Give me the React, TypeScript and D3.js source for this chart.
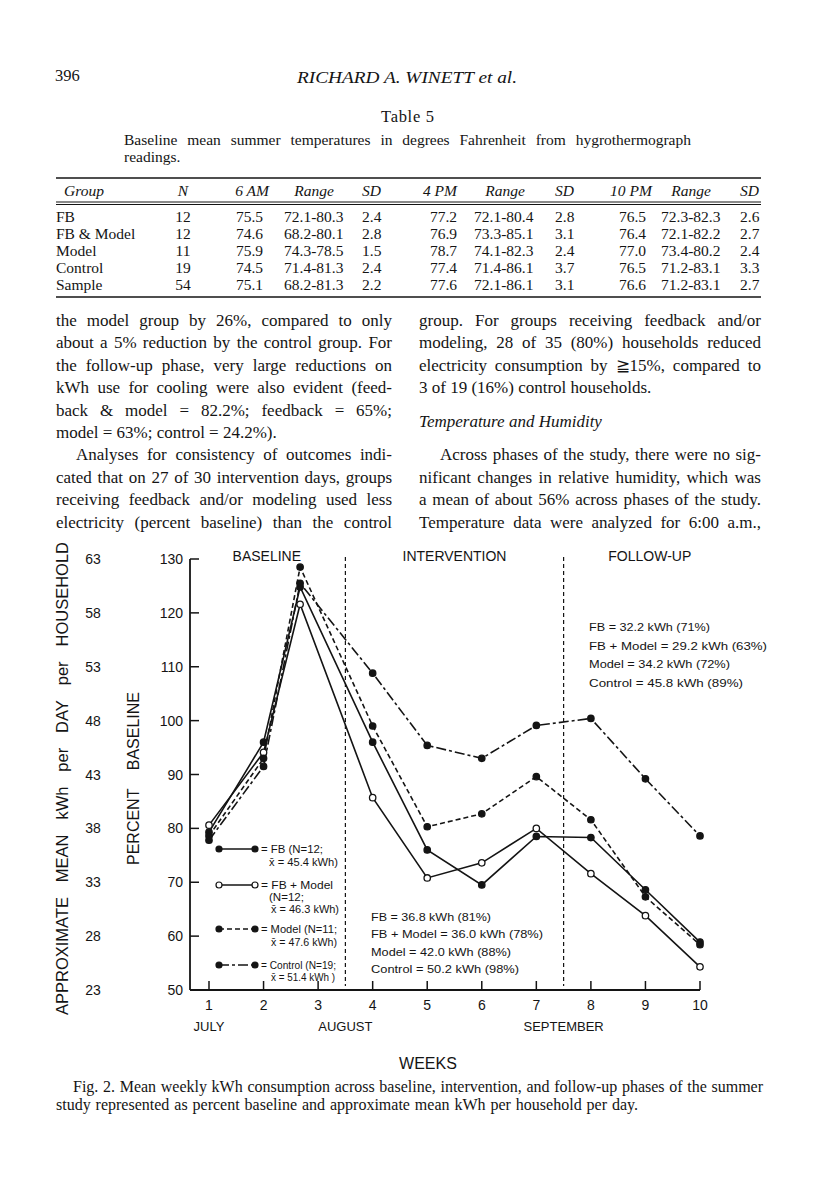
import React from 'react';
import * as d3 from 'd3';

// ---------- chart data ----------
const weeks = [1, 2, 2.67, 4, 5, 6, 7, 8, 9, 10];
const fbValues = [79.3, 96.0, 124.8, 96.0, 76.0, 69.5, 78.5, 78.3, 68.6, 58.9];
const fbModelValues = [80.6, 94.1, 121.6, 85.7, 70.8, 73.6, 80.0, 71.6, 63.8, 54.3];
const modelValues = [78.6, 93.0, 128.5, 99.0, 80.3, 82.7, 89.6, 81.6, 67.3, 58.4];
const controlValues = [77.8, 91.5, 125.5, 108.8, 95.4, 93.0, 99.1, 100.4, 89.2, 78.6];
const percentTicks = [50, 60, 70, 80, 90, 100, 110, 120, 130];
const kwhTicks = [23, 28, 33, 38, 43, 48, 53, 58, 63];
const weekTicks = [1, 2, 3, 4, 5, 6, 7, 8, 9, 10];
const monthLabels = ['JULY', 'AUGUST', 'SEPTEMBER'];
const monthWeeks = [1, 3.5, 7.5];
const phaseLabels = ['BASELINE', 'INTERVENTION', 'FOLLOW-UP'];
const phaseCenters = [2.06, 5.5, 9.08];
const phaseBreaks = [3.5, 7.5];
const interventionNotes = ['FB = 36.8 kWh (81%)', 'FB + Model = 36.0 kWh (78%)', 'Model = 42.0 kWh (88%)', 'Control = 50.2 kWh (98%)'];
const followupNotes = ['FB = 32.2 kWh (71%)', 'FB + Model = 29.2 kWh (63%)', 'Model = 34.2 kWh (72%)', 'Control = 45.8 kWh (89%)'];

// ---------- table data ----------
const tableHeaders = ['Group', 'N', '6 AM', 'Range', 'SD', '4 PM', 'Range', 'SD', '10 PM', 'Range', 'SD'];
const tableGroups = ['FB', 'FB & Model', 'Model', 'Control', 'Sample'];
const tableN = ['12', '12', '11', '19', '54'];
const am6 = ['75.5', '74.6', '75.9', '74.5', '75.1'];
const am6Range = ['72.1-80.3', '68.2-80.1', '74.3-78.5', '71.4-81.3', '68.2-81.3'];
const am6SD = ['2.4', '2.8', '1.5', '2.4', '2.2'];
const pm4 = ['77.2', '76.9', '78.7', '77.4', '77.6'];
const pm4Range = ['72.1-80.4', '73.3-85.1', '74.1-82.3', '71.4-86.1', '72.1-86.1'];
const pm4SD = ['2.8', '3.1', '2.4', '3.7', '3.1'];
const pm10 = ['76.5', '76.4', '77.0', '76.5', '76.6'];
const pm10Range = ['72.3-82.3', '72.1-82.2', '73.4-80.2', '71.2-83.1', '71.2-83.1'];
const pm10SD = ['2.6', '2.7', '2.4', '3.3', '2.7'];

// ---------- body text ----------
const leftLines = [
  'the model group by 26%, compared to only',
  'about a 5% reduction by the control group. For',
  'the follow-up phase, very large reductions on',
  'kWh use for cooling were also evident (feed-',
  'back & model = 82.2%; feedback = 65%;',
  'model = 63%; control = 24.2%).',
  'Analyses for consistency of outcomes indi-',
  'cated that on 27 of 30 intervention days, groups',
  'receiving feedback and/or modeling used less',
  'electricity (percent baseline) than the control',
];
const rightLines = [
  'group. For groups receiving feedback and/or',
  'modeling, 28 of 35 (80%) households reduced',
  'electricity consumption by \u226715%, compared to',
  '3 of 19 (16%) control households.',
  '',
  '',
  'Across phases of the study, there were no sig-',
  'nificant changes in relative humidity, which was',
  'a mean of about 56% across phases of the study.',
  'Temperature data were analyzed for 6:00 a.m.,',
];

const SERIF = "'Liberation Serif', 'DejaVu Serif', serif";
const SANS = "'Liberation Sans', Arial, sans-serif";
const INK = '#141414';

let ctx: CanvasRenderingContext2D | null = null;
function measure(t: string, font: string): number {
  if (!ctx) ctx = document.createElement('canvas').getContext('2d');
  if (!ctx) return t.length * 7;
  ctx.font = font;
  return ctx.measureText(t).width;
}

function JLine({ text, x, y, width, size, family, italic, justify = true, canvasFamily }: any) {
  const font = `${italic ? 'italic ' : ''}${size}px ${canvasFamily || 'Liberation Serif'}`;
  const words = text.split(' ');
  const ws = words.map((w: string) => measure(w, font));
  const total = ws.reduce((a: number, b: number) => a + b, 0);
  const space = measure(' ', font);
  const gap = justify && words.length > 1 ? (width - total) / (words.length - 1) : space;
  let cx = x;
  return (
    <text y={y} fontSize={size} fontFamily={family} fontStyle={italic ? 'italic' : 'normal'} fill={INK}>
      {words.map((w: string, i: number) => {
        const el = (
          <tspan key={i} x={cx}>
            {w}
          </tspan>
        );
        cx += ws[i] + gap;
        return el;
      })}
    </text>
  );
}

export default function App() {
  const x = d3.scaleLinear().domain([1, 10]).range([209, 700]);
  const y = d3.scaleLinear().domain([50, 130]).range([990, 559]);
  const axisX = 190;

  const series = [
    { name: 'FB', values: fbValues, dash: undefined as string | undefined, open: false },
    { name: 'FB + Model', values: fbModelValues, dash: undefined, open: true },
    { name: 'Model', values: modelValues, dash: '5,3', open: false },
    { name: 'Control', values: controlValues, dash: '10,3,3,3', open: false },
  ];
  const line = d3
    .line<number>()
    .x((_, i) => x(weeks[i]))
    .y((d) => y(d));

  // table columns
  const rowBase = [222, 239, 256, 273, 290];
  const cols: { vals: string[]; x: number; anchor: string }[] = [
    { vals: tableGroups, x: 56, anchor: 'start' },
    { vals: tableN, x: 183, anchor: 'middle' },
    { vals: am6, x: 263, anchor: 'end' },
    { vals: am6Range, x: 284, anchor: 'start' },
    { vals: am6SD, x: 362, anchor: 'start' },
    { vals: pm4, x: 457, anchor: 'end' },
    { vals: pm4Range, x: 474, anchor: 'start' },
    { vals: pm4SD, x: 555, anchor: 'start' },
    { vals: pm10, x: 646, anchor: 'end' },
    { vals: pm10Range, x: 661, anchor: 'start' },
    { vals: pm10SD, x: 740, anchor: 'start' },
  ];
  const headerPos: { x: number; anchor: string }[] = [
    { x: 84, anchor: 'middle' },
    { x: 183, anchor: 'middle' },
    { x: 252, anchor: 'middle' },
    { x: 314, anchor: 'middle' },
    { x: 362, anchor: 'start' },
    { x: 440, anchor: 'middle' },
    { x: 505, anchor: 'middle' },
    { x: 555, anchor: 'start' },
    { x: 631, anchor: 'middle' },
    { x: 691, anchor: 'middle' },
    { x: 740, anchor: 'start' },
  ];

  const lineY0 = 326;
  const lineH = 22.4;
  const colW = 336;
  const bodySize = 17;

  const legendItems = [
    { s: 0, ly: 849, lines: [['= FB (N=12;', 261, 853, 62], ['x\u0304 = 45.4 kWh)', 269, 866, 69]] },
    { s: 1, ly: 885, lines: [['= FB + Model', 261, 889, 72], ['(N=12;', 269, 901, 35], ['x\u0304 = 46.3 kWh)', 271, 913, 68]] },
    { s: 2, ly: 929, lines: [['= Model (N=11;', 261, 933, 76], ['x\u0304 = 47.6 kWh)', 271, 946, 66]] },
    { s: 3, ly: 965, lines: [['= Control (N=19;', 261, 969, 75], ['x\u0304 = 51.4 kWh )', 271, 981, 64]] },
  ];
  const intW = [120, 172, 140, 148];
  const fuW = [121, 178, 141, 154];

  return (
    <svg
      width={816}
      height={1195}
      viewBox="0 0 816 1195"
      style={{ position: 'absolute', left: 0, top: 0, background: '#fff' }}
    >
      <rect x={0} y={0} width={816} height={1195} fill="#fff" />
      {/* running head */}
      <text x={55} y={81} fontSize={16.5} fontFamily={SERIF} fill={INK}>
        396
      </text>
      <text x={297} y={83} fontSize={17} fontFamily={SERIF} fontStyle="italic" fill={INK} textLength={220} lengthAdjust="spacingAndGlyphs">
        RICHARD A. WINETT et al.
      </text>
      <text x={381} y={122} fontSize={16.5} fontFamily={SERIF} fill={INK} textLength={53} lengthAdjust="spacing">
        Table 5
      </text>
      <JLine text="Baseline mean summer temperatures in degrees Fahrenheit from hygrothermograph" x={124} y={145} width={567} size={15.5} family={SERIF} />
      <JLine text="readings." x={124} y={162} width={60} size={15.5} family={SERIF} justify={false} />

      {/* table rules */}
      <line x1={56} x2={761} y1={178} y2={178} stroke={INK} strokeWidth={1.6} />
      <line x1={56} x2={761} y1={202} y2={202} stroke={INK} strokeWidth={1} />
      <line x1={56} x2={761} y1={204.5} y2={204.5} stroke={INK} strokeWidth={1} />
      <line x1={56} x2={761} y1={297} y2={297} stroke={INK} strokeWidth={1.6} />
      {tableHeaders.map((h, i) => (
        <text key={'h' + i} x={headerPos[i].x} y={196} fontSize={15.5} fontFamily={SERIF} fontStyle="italic" textAnchor={headerPos[i].anchor as any} fill={INK}>
          {h}
        </text>
      ))}
      {cols.map((c, ci) =>
        c.vals.map((v, ri) => (
          <text key={ci + '-' + ri} x={c.x} y={rowBase[ri]} fontSize={15.5} fontFamily={SERIF} textAnchor={c.anchor as any} fill={INK}>
            {v}
          </text>
        ))
      )}

      {/* body text */}
      {leftLines.map((t, i) => (
        <JLine
          key={'l' + i}
          text={t}
          x={i === 6 ? 76 : 56}
          y={lineY0 + i * lineH}
          width={i === 6 ? colW - 20 : colW}
          size={bodySize}
          family={SERIF}
          justify={i !== 5}
        />
      ))}
      {rightLines.map((t, i) =>
        t ? (
          <JLine
            key={'r' + i}
            text={t}
            x={i === 6 ? 440 : 419}
            y={lineY0 + i * lineH}
            width={i === 6 ? 342 - 21 : 342}
            size={bodySize}
            family={SERIF}
            justify={i !== 3}
          />
        ) : null
      )}
      <JLine text="Temperature and Humidity" x={419} y={lineY0 + 4.5 * lineH} width={198} size={bodySize} family={SERIF} italic justify={false} />

      {/* ---------- chart ---------- */}
      <line x1={axisX} x2={axisX} y1={y(130)} y2={y(50)} stroke={INK} strokeWidth={1.8} />
      <line x1={axisX} x2={x(10)} y1={y(50)} y2={y(50)} stroke={INK} strokeWidth={1.8} />
      {percentTicks.map((t) => (
        <g key={'pt' + t}>
          <line x1={axisX} x2={axisX + 9} y1={y(t)} y2={y(t)} stroke={INK} strokeWidth={1.5} />
          <text x={183} y={y(t) + 5} fontSize={14} fontFamily={SANS} textAnchor="end" fill={INK}>
            {t}
          </text>
        </g>
      ))}
      {kwhTicks.map((t, i) => (
        <text key={'kt' + t} x={93} y={y(percentTicks[i]) + 5} fontSize={14} fontFamily={SANS} textAnchor="middle" fill={INK}>
          {t}
        </text>
      ))}
      {weekTicks.map((w) => (
        <g key={'wt' + w}>
          <line x1={x(w)} x2={x(w)} y1={y(50)} y2={y(50) - 9} stroke={INK} strokeWidth={1.5} />
          <text x={x(w)} y={1010} fontSize={14} fontFamily={SANS} textAnchor="middle" fill={INK}>
            {w}
          </text>
        </g>
      ))}
      {monthLabels.map((m, i) => (
        <text key={m} x={x(monthWeeks[i])} y={1031} fontSize={13} fontFamily={SANS} textAnchor="middle" fill={INK}>
          {m}
        </text>
      ))}
      {phaseLabels.map((p, i) => (
        <text key={p} x={x(phaseCenters[i])} y={561} fontSize={14} fontFamily={SANS} textAnchor="middle" fill={INK}>
          {p}
        </text>
      ))}
      {phaseBreaks.map((b) => (
        <line key={'pb' + b} x1={x(b)} x2={x(b)} y1={557} y2={986} stroke={INK} strokeWidth={1.2} strokeDasharray="4,3" />
      ))}

      {/* axis titles */}
      <g transform="translate(139,865) rotate(-90)">
        <JLine text="PERCENT BASELINE" x={0} y={0} width={173} size={16} family={SANS} canvasFamily="Liberation Sans" />
      </g>
      <g transform="translate(68,1015) rotate(-90)">
        <JLine text="APPROXIMATE MEAN kWh per DAY per HOUSEHOLD" x={0} y={0} width={473} size={16.5} family={SANS} canvasFamily="Liberation Sans" />
      </g>

      {/* series lines */}
      {series.map((s) => (
        <path key={s.name} d={line(s.values) || ''} fill="none" stroke={INK} strokeWidth={1.6} strokeDasharray={s.dash} />
      ))}
      {series.map((s) =>
        s.values.map((v, i) => (
          <circle
            key={s.name + i}
            cx={x(weeks[i])}
            cy={y(v)}
            r={3.2}
            fill={s.open ? '#fff' : INK}
            stroke={INK}
            strokeWidth={1.3}
          />
        ))
      )}

      {/* legend */}
      {legendItems.map((it) => {
        const s = series[it.s];
        return (
          <g key={'lg' + it.s}>
            <line x1={219} x2={255} y1={it.ly} y2={it.ly} stroke={INK} strokeWidth={1.6} strokeDasharray={s.dash} />
            {[219, 255].map((cx) => (
              <circle key={cx} cx={cx} cy={it.ly} r={3} fill={s.open ? '#fff' : INK} stroke={INK} strokeWidth={1.2} />
            ))}
            {it.lines.map((l: any, j: number) => (
              <text key={j} x={l[1]} y={l[2]} fontSize={11} fontFamily={SANS} fill={INK} textLength={l[3]} lengthAdjust="spacingAndGlyphs">
                {l[0]}
              </text>
            ))}
          </g>
        );
      })}

      {/* phase summaries */}
      {interventionNotes.map((t, i) => (
        <text key={'in' + i} x={371} y={921 + i * 17.4} fontSize={11} fontFamily={SANS} fill={INK} textLength={intW[i]} lengthAdjust="spacingAndGlyphs">
          {t}
        </text>
      ))}
      {followupNotes.map((t, i) => (
        <text key={'fu' + i} x={589} y={631 + i * 18.7} fontSize={11} fontFamily={SANS} fill={INK} textLength={fuW[i]} lengthAdjust="spacingAndGlyphs">
          {t}
        </text>
      ))}

      <text x={428} y={1069} fontSize={16} fontFamily={SANS} textAnchor="middle" fill={INK}>
        WEEKS
      </text>

      {/* figure caption */}
      <JLine
        text="Fig. 2. Mean weekly kWh consumption across baseline, intervention, and follow-up phases of the summer"
        x={73}
        y={1092}
        width={690}
        size={16}
        family={SERIF}
      />
      <JLine
        text="study represented as percent baseline and approximate mean kWh per household per day."
        x={56}
        y={1110}
        width={582}
        size={16}
        family={SERIF}
      />
    </svg>
  );
}
